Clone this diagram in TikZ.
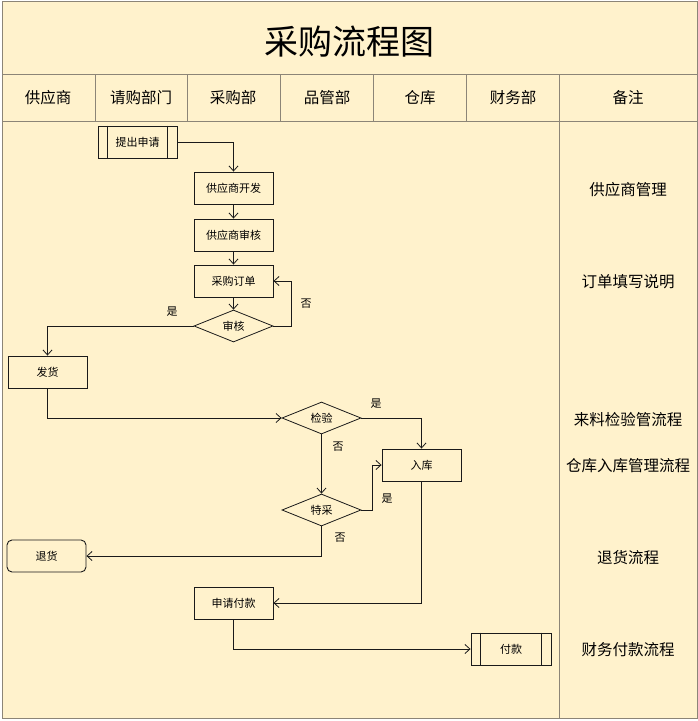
\documentclass[tikz,border=0pt]{standalone}
\usepackage{fontspec}
\setmainfont{Noto Sans CJK SC}
\usetikzlibrary{arrows.meta,shapes.geometric}
\definecolor{cream}{HTML}{FFF2CC}
\definecolor{gridc}{HTML}{8C8577}
\definecolor{ink}{HTML}{1A1A1A}
\tikzset{
  gridline/.style={draw=gridc, line width=0.9pt},
  procbox/.style={draw=ink, line width=0.9pt, minimum width=79pt, minimum height=32pt, inner sep=0pt, font=\fontsize{11}{11}\selectfont},
  roundbox/.style={procbox, rounded corners=5pt},
  decide/.style={diamond, draw=ink, line width=0.8pt, aspect=2.47, minimum width=79pt, minimum height=32pt, inner sep=0pt, font=\fontsize{11}{11}\selectfont},
  conn/.style={draw=ink, line width=0.8pt, -{Straight Barb[length=5pt,width=9pt]}},
  yesno/.style={font=\fontsize{11}{11}\selectfont, inner sep=0pt},
  headtext/.style={font=\fontsize{15.5}{15.5}\selectfont, inner sep=0pt},
  notetext/.style={font=\fontsize{15.5}{15.5}\selectfont, inner sep=0pt},
}
\begin{document}
\begin{tikzpicture}[x=1pt,y=-1pt]
\useasboundingbox (0,0) rectangle (698,721);
\fill[white] (0,0) rectangle (698,721);
\fill[cream] (2,1) rectangle (697,718);
% table frame
\draw[gridline] (2,1) rectangle (697,718);
\draw[gridline] (2,74) -- (697,74);
\draw[gridline] (2,121) -- (697,121);
\foreach \xx in {95,187,280,373,466} { \draw[gridline] (\xx,74) -- (\xx,121); }
\draw[gridline] (559,74) -- (559,718);
% title
\node[font=\fontsize{34}{34}\selectfont, inner sep=0pt] (title) at (349,42) {采购流程图};
% header
\node[headtext] (h1) at (48,98) {供应商};
\node[headtext] (h2) at (141,98) {请购部门};
\node[headtext] (h3) at (233,98) {采购部};
\node[headtext] (h4) at (327,98) {品管部};
\node[headtext] (h5) at (420,98) {仓库};
\node[headtext] (h6) at (513,98) {财务部};
\node[headtext] (h7) at (628,98) {备注};
% notes
\node[notetext] (n1) at (628,190) {供应商管理};
\node[notetext] (n2) at (628,282) {订单填写说明};
\node[notetext] (n3) at (628,420) {来料检验管流程};
\node[notetext] (n4) at (628,466) {仓库入库管理流程};
\node[notetext] (n5) at (628,558) {退货流程};
\node[notetext] (n6) at (628,650) {财务付款流程};
% nodes
\node[procbox] (req) at (137.5,142) {提出申请};
\draw[draw=ink, line width=0.9pt] ([xshift=10pt]req.north west) -- ([xshift=10pt]req.south west);
\draw[draw=ink, line width=0.9pt] ([xshift=-10pt]req.north east) -- ([xshift=-10pt]req.south east);
\node[procbox] (dev) at (233.5,188) {供应商开发};
\node[procbox] (aud) at (233.5,235) {供应商审核};
\node[procbox] (ord) at (233.5,281) {采购订单};
\node[decide] (chk) at (233.5,326) {审核};
\node[procbox] (ship) at (47.5,372) {发货};
\node[decide] (insp) at (321.5,418) {检验};
\node[procbox] (stock) at (421.5,465) {入库};
\node[decide] (spec) at (321.5,510) {特采};
\node[roundbox] (ret) at (46.5,556) {退货};
\node[procbox] (payreq) at (233.5,603) {申请付款};
\node[procbox, minimum width=80pt] (pay) at (511,649) {付款};
\draw[draw=ink, line width=0.9pt] ([xshift=10pt]pay.north west) -- ([xshift=10pt]pay.south west);
\draw[draw=ink, line width=0.9pt] ([xshift=-10pt]pay.north east) -- ([xshift=-10pt]pay.south east);
% connectors
\draw[conn] (req.east) -| (dev.north);
\draw[conn] (dev.south) -- (aud.north);
\draw[conn] (aud.south) -- (ord.north);
\draw[conn] (ord.south) -- (chk.north);
\draw[conn] (chk.east) -- ++(18,0) |- (ord.east);
\draw[conn] (chk.west) -| (ship.north);
\draw[conn] (ship.south) |- (insp.west);
\draw[conn] (insp.east) -| (stock.north);
\draw[conn] (insp.south) -- (spec.north);
\draw[conn] (spec.east) -- ++(11,0) |- (stock.west);
\draw[conn] (spec.south) |- (ret.east);
\draw[conn] (stock.south) |- (payreq.east);
\draw[conn] (payreq.south) |- (pay.west);
% labels
\node[yesno] (lno1) at (306,304) {否};
\node[yesno] (lyes1) at (172,312) {是};
\node[yesno] (lyes2) at (376,404) {是};
\node[yesno] (lno2) at (338,447) {否};
\node[yesno] (lyes3) at (387,499) {是};
\node[yesno] (lno3) at (340,538) {否};
\end{tikzpicture}
\end{document}
